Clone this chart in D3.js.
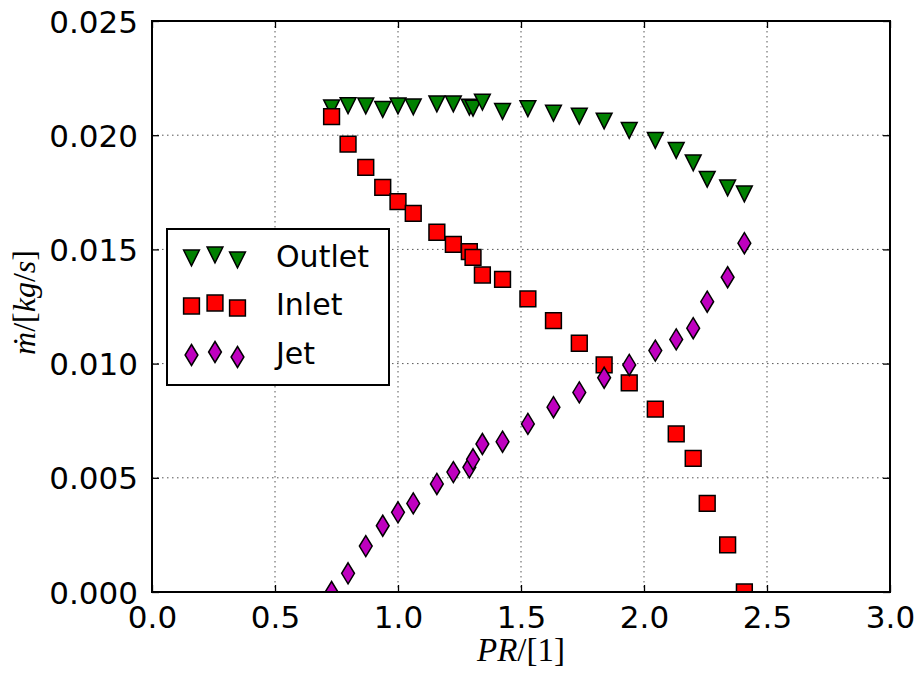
<!DOCTYPE html>
<html>
<head>
<meta charset="utf-8">
<script src="https://cdn.jsdelivr.net/npm/d3@7"></script>
<style>
  html, body { margin: 0; padding: 0; background: #fff; }
  svg { display: block; }
</style>
</head>
<body>
<svg id="chart" width="923" height="677"></svg>
<script>
// ---- data ----
const pr = [0.73, 0.797, 0.869, 0.938, 1.0, 1.062, 1.158, 1.225, 1.29, 1.305, 1.343, 1.425, 1.528, 1.632, 1.737, 1.838, 1.94, 2.046, 2.131, 2.2, 2.257, 2.34, 2.408];
const outlet = [0.0212, 0.02129, 0.02128, 0.02113, 0.02128, 0.02124, 0.02137, 0.02137, 0.02123, 0.02118, 0.02145, 0.02104, 0.02116, 0.02096, 0.02083, 0.02062, 0.02021, 0.01977, 0.01933, 0.01879, 0.01807, 0.01769, 0.01743];
const inlet = [0.02081, 0.01961, 0.01859, 0.01772, 0.01709, 0.01658, 0.01575, 0.01522, 0.0149, 0.01465, 0.01388, 0.01369, 0.01283, 0.01188, 0.01089, 0.00994, 0.00916, 0.00801, 0.00692, 0.00585, 0.00388, 0.00206, 0.0];
const jet = [0.0, 0.00082, 0.00201, 0.0029, 0.00349, 0.00388, 0.00473, 0.00525, 0.00546, 0.00581, 0.00648, 0.00658, 0.00736, 0.00809, 0.00874, 0.00938, 0.00994, 0.01057, 0.01106, 0.01155, 0.01271, 0.01378, 0.01527];
const xTicks = [0.0, 0.5, 1.0, 1.5, 2.0, 2.5, 3.0];
const yTicks = [0.000, 0.005, 0.010, 0.015, 0.020, 0.025];
const seriesNames = ["Outlet", "Inlet", "Jet"];
const seriesColors = ["#008000", "#ff0000", "#bf00bf"];
const seriesShapes = ["tridown", "square", "thindiamond"];

// ---- layout ----
const svg = d3.select("#chart");
const plot = { left: 152, right: 890, top: 21, bottom: 592 };
const x = d3.scaleLinear().domain([0, 3]).range([plot.left, plot.right]);
const y = d3.scaleLinear().domain([0, 0.025]).range([plot.bottom, plot.top]);

// marker shapes as d3 symbol types
const shapes = {
  tridown: { draw(ctx, s) { const h = 7.9; ctx.moveTo(0, h); ctx.lineTo(-h, -h); ctx.lineTo(h, -h); ctx.closePath(); } },
  square: { draw(ctx, s) { const h = 7.9; ctx.moveTo(-h, -h); ctx.lineTo(h, -h); ctx.lineTo(h, h); ctx.lineTo(-h, h); ctx.closePath(); } },
  thindiamond: { draw(ctx, s) { const h = 10.5, w = 6.4; ctx.moveTo(0, -h); ctx.lineTo(w, 0); ctx.lineTo(0, h); ctx.lineTo(-w, 0); ctx.closePath(); } }
};
const symbolPath = name => d3.symbol().type(shapes[name]).size(1)();

// clip
svg.append("defs").append("clipPath").attr("id", "clip")
  .append("rect").attr("x", plot.left).attr("y", plot.top)
  .attr("width", plot.right - plot.left).attr("height", plot.bottom - plot.top);

// grid
const grid = svg.append("g");
grid.selectAll("line.gx").data(xTicks.slice(1, -1)).enter().append("line")
  .attr("x1", d => x(d)).attr("x2", d => x(d))
  .attr("y1", plot.top).attr("y2", plot.bottom)
  .attr("stroke", "#555").attr("stroke-width", 1).attr("stroke-dasharray", "1.5,3.5");
grid.selectAll("line.gy").data(yTicks.slice(1, -1)).enter().append("line")
  .attr("y1", d => y(d)).attr("y2", d => y(d))
  .attr("x1", plot.left).attr("x2", plot.right)
  .attr("stroke", "#555").attr("stroke-width", 1).attr("stroke-dasharray", "1.5,3.5");

// data markers
const allSeries = [outlet, inlet, jet];
const markers = svg.append("g").attr("clip-path", "url(#clip)");
allSeries.forEach((vals, i) => {
  const p = symbolPath(seriesShapes[i]);
  markers.append("g").selectAll("path").data(pr.map((v, j) => [v, vals[j]])).enter().append("path")
    .attr("d", p)
    .attr("transform", d => `translate(${x(d[0])},${y(d[1])})`)
    .attr("fill", seriesColors[i]).attr("stroke", "#000").attr("stroke-width", 1.5)
    .attr("stroke-linejoin", "miter");
});

// axes (ticks inward on all four sides)
const fontTick = "DejaVu Sans, sans-serif";
const axB = d3.axisBottom(x).tickValues(xTicks).tickFormat(d3.format(".1f")).tickSizeInner(-7).tickSizeOuter(0).tickPadding(14);
const axT = d3.axisTop(x).tickValues(xTicks).tickFormat("").tickSizeInner(-7).tickSizeOuter(0);
const axL = d3.axisLeft(y).tickValues(yTicks).tickFormat(d3.format(".3f")).tickSizeInner(-7).tickSizeOuter(0).tickPadding(14);
const axR = d3.axisRight(y).tickValues(yTicks).tickFormat("").tickSizeInner(-7).tickSizeOuter(0);

function styleAxis(g) {
  g.select(".domain").remove();
  g.selectAll(".tick line").attr("stroke", "#000").attr("stroke-width", 1.3);
  g.selectAll(".tick text").attr("fill", "#000").style("font-family", fontTick).style("font-size", "31px");
}
svg.append("g").attr("transform", `translate(0,${plot.bottom})`).call(axB).call(styleAxis);
svg.append("g").attr("transform", `translate(0,${plot.top})`).call(axT).call(styleAxis);
svg.append("g").attr("transform", `translate(${plot.left},0)`).call(axL).call(styleAxis)
  .selectAll(".tick text").attr("dy", "0.36em");
svg.append("g").attr("transform", `translate(${plot.right},0)`).call(axR).call(styleAxis);

// frame
svg.append("rect").attr("x", plot.left).attr("y", plot.top)
  .attr("width", plot.right - plot.left).attr("height", plot.bottom - plot.top)
  .attr("fill", "none").attr("stroke", "#000").attr("stroke-width", 2);

// axis labels
const serif = "Liberation Serif, 'DejaVu Serif', serif";
const xl = svg.append("text").attr("x", (plot.left + plot.right) / 2).attr("y", 661)
  .attr("text-anchor", "middle").style("font-family", serif).style("font-size", "33px").attr("fill", "#000");
xl.append("tspan").style("font-style", "italic").text("PR");
xl.append("tspan").text("/[1]");

const yl = svg.append("text").attr("transform", `translate(35,${(plot.top + plot.bottom) / 2 - 4}) rotate(-90)`)
  .attr("text-anchor", "middle").style("font-family", serif).style("font-size", "32px").attr("fill", "#000");
yl.append("tspan").style("font-style", "italic").text("ṁ");
yl.append("tspan").text("/[");
yl.append("tspan").style("font-style", "italic").text("kg");
yl.append("tspan").text("/");
yl.append("tspan").style("font-style", "italic").text("s");
yl.append("tspan").text("]");

// legend
const leg = svg.append("g");
leg.append("rect").attr("x", 167).attr("y", 229).attr("width", 222).attr("height", 156)
  .attr("fill", "#fff").attr("stroke", "#000").attr("stroke-width", 2);
const rowY = [258, 306, 355];
const markX = [191.5, 215, 237.5];
const markDY = [0, -3, 2];
seriesNames.forEach((name, i) => {
  const p = symbolPath(seriesShapes[i]);
  markX.forEach((mx, k) => {
    leg.append("path").attr("d", p).attr("transform", `translate(${mx},${rowY[i] + markDY[k]})`)
      .attr("fill", seriesColors[i]).attr("stroke", "#000").attr("stroke-width", 1.5);
  });
  leg.append("text").attr("x", 276).attr("y", rowY[i] + 9)
    .style("font-family", fontTick).style("font-size", "30px").attr("fill", "#000").text(name);
});
</script>
</body>
</html>
